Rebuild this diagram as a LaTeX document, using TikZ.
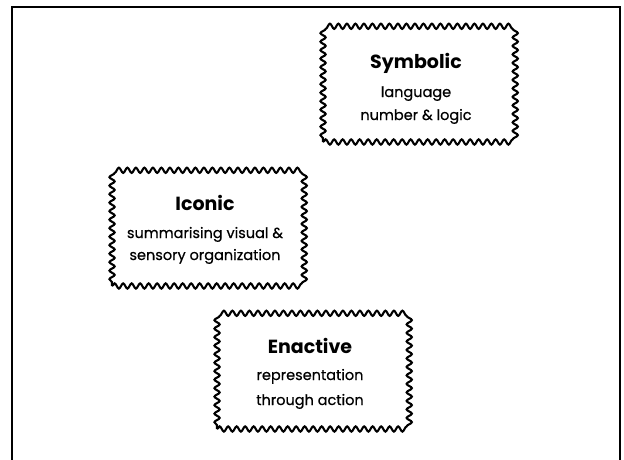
\documentclass[tikz,border=0pt]{standalone}
\usepackage{fontspec}
\setmainfont{Poppins}
\newfontfamily\subfont{Poppins}[FakeBold=0.5]
\usetikzlibrary{decorations.pathmorphing,calc}
\tikzset{
  wigglebox/.style={draw, line width=2.1pt, decorate,
    decoration={snake, amplitude=2.6pt, segment length=8.5pt},
    minimum width=186pt, minimum height=114pt, inner sep=0pt},
  titletext/.style={anchor=base, inner sep=0pt,
    font=\fontsize{19}{23}\selectfont\bfseries},
  subtext/.style={anchor=base, inner sep=0pt,
    font=\subfont\fontsize{14.5}{23}\selectfont},
  frameline/.style={line width=2.4pt}
}
\begin{document}
\begin{tikzpicture}[x=1pt,y=-1pt]
\useasboundingbox (0,0) rectangle (624,460);
\coordinate (fbl) at (12,470);
\coordinate (ftl) at (12,7);
\coordinate (ftr) at (620,7);
\coordinate (fbr) at (620,470);
\draw[frameline] (fbl) -- (ftl) -- (ftr) -- (fbr);
% Symbolic
\node[wigglebox] (symbolic) at (416,85) {};
\node[titletext] (symbolic-t) at ($(symbolic.center)+(0,-16)$) {Symbolic};
\node[subtext] (symbolic-a) at ($(symbolic.center)+(0,12)$) {language};
\node[subtext] (symbolic-b) at ($(symbolic.center)+(0,35)$) {number \& logic};
% Iconic
\node[wigglebox] (iconic) at (205,229) {};
\node[titletext] (iconic-t) at ($(iconic.center)+(0,-19)$) {Iconic};
\node[subtext] (iconic-a) at ($(iconic.center)+(0,9)$) {summarising visual \&};
\node[subtext] (iconic-b) at ($(iconic.center)+(0,31)$) {sensory organization};
% Enactive
\node[wigglebox] (enactive) at (310,372) {};
\node[titletext] (enactive-t) at ($(enactive.center)+(0,-19)$) {Enactive};
\node[subtext] (enactive-a) at ($(enactive.center)+(0,8)$) {representation};
\node[subtext] (enactive-b) at ($(enactive.center)+(0,33)$) {through action};
\end{tikzpicture}
\end{document}
